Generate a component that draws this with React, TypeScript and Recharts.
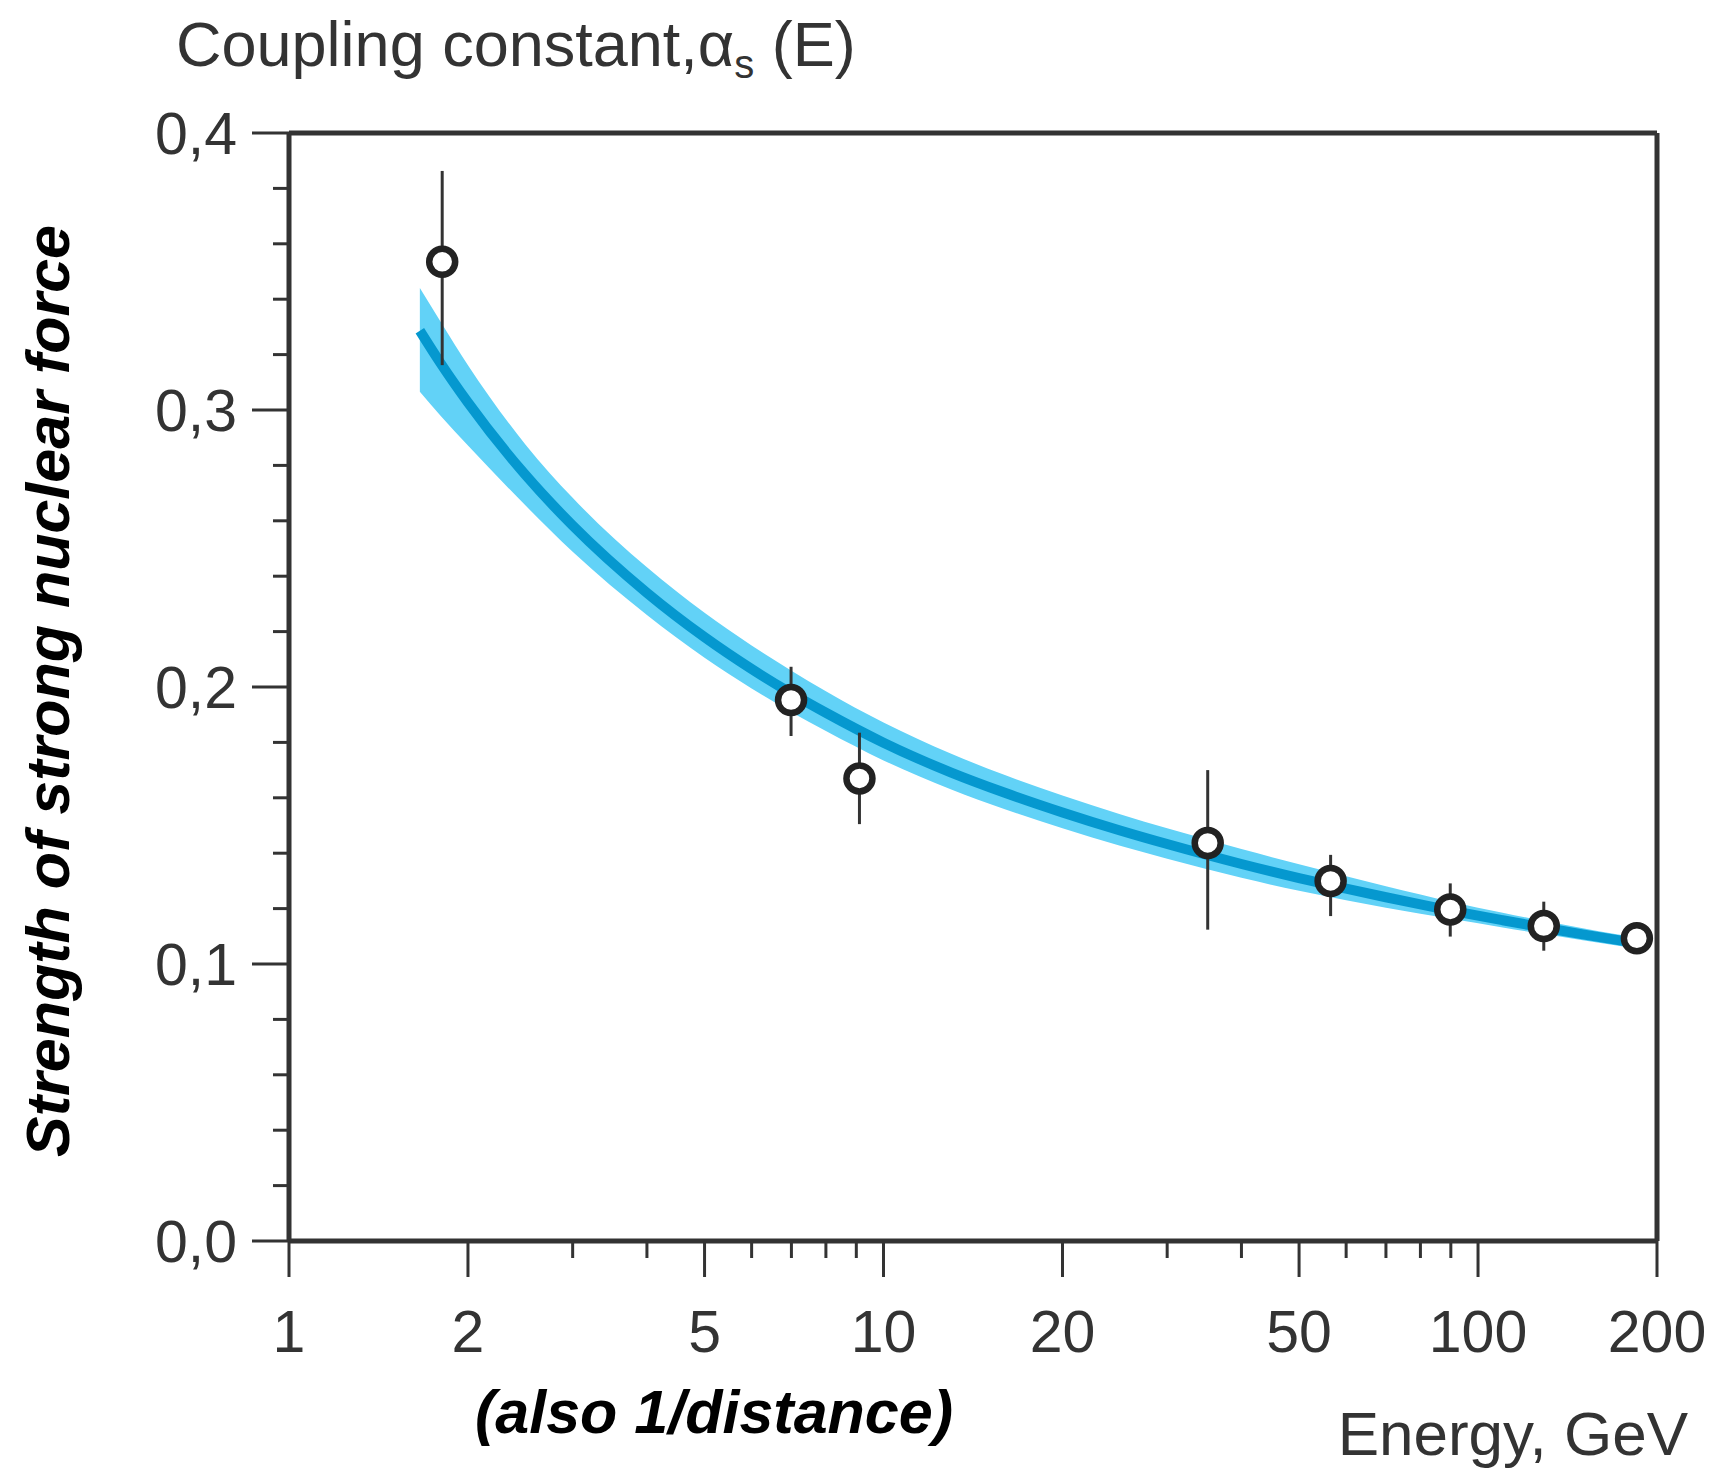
import React from "react";
import {
  ComposedChart,
  Area,
  Line,
  Scatter,
  ErrorBar,
  XAxis,
  YAxis,
  ReferenceLine,
} from "recharts";

// Running coupling curve (energy in GeV)
const CURVE_E = [1.66, 1.8, 2, 2.5, 3, 4, 5, 6, 7, 8, 10, 13, 16, 20, 25, 30, 40, 50, 60, 70, 80, 90, 110, 130, 150, 170, 188];
const CURVE_MID = [0.3286, 0.3168, 0.3027, 0.2765, 0.2583, 0.234, 0.218, 0.2065, 0.1977, 0.1907, 0.1799, 0.1691, 0.1618, 0.1547, 0.1482, 0.1433, 0.1361, 0.131, 0.1272, 0.1241, 0.1215, 0.1193, 0.1158, 0.113, 0.1107, 0.1088, 0.1073];
const BAND_HI = [0.344, 0.3318, 0.3162, 0.2875, 0.2683, 0.2432, 0.2268, 0.215, 0.2059, 0.1985, 0.1872, 0.1759, 0.1682, 0.1608, 0.1541, 0.149, 0.1415, 0.136, 0.1317, 0.1281, 0.1251, 0.1225, 0.1185, 0.1154, 0.1129, 0.1108, 0.1093];
const BAND_LO = [0.3066, 0.2978, 0.2872, 0.2655, 0.2488, 0.226, 0.2106, 0.1995, 0.1909, 0.1841, 0.1735, 0.163, 0.1559, 0.149, 0.1427, 0.138, 0.1311, 0.1264, 0.123, 0.1203, 0.1181, 0.1163, 0.1132, 0.1107, 0.1086, 0.1068, 0.1053];

// Measurements with error bars
const PT_E = [1.81, 6.99, 9.11, 35.1, 56.5, 89.8, 129, 185];
const PT_A = [0.3535, 0.1953, 0.167, 0.1437, 0.13, 0.1197, 0.1137, 0.1093];
const PT_LO = [0.3162, 0.1823, 0.1505, 0.1124, 0.1173, 0.1099, 0.1048, 0.1093];
const PT_HI = [0.3863, 0.2073, 0.1835, 0.17, 0.1394, 0.1291, 0.1225, 0.1093];

// Axis ticks
const X_MAJOR = [1, 2, 5, 10, 20, 50, 100, 200];
const X_MINOR = [3, 4, 6, 7, 8, 9, 30, 40, 60, 70, 80, 90];
const Y_TICKS = [0, 0.02, 0.04, 0.06, 0.08, 0.1, 0.12, 0.14, 0.16, 0.18, 0.2, 0.22, 0.24, 0.26, 0.28, 0.3, 0.32, 0.34, 0.36, 0.38, 0.4];

const FONT = "'Liberation Sans', Arial, Helvetica, sans-serif";
const INK = "#333333";

const curveData = CURVE_E.map((e, i) => ({
  e,
  mid: CURVE_MID[i],
  band: [BAND_LO[i], BAND_HI[i]],
}));

const pointData = PT_E.map((e, i) => ({
  e,
  a: PT_A[i],
  err: [PT_A[i] - PT_LO[i], PT_HI[i] - PT_A[i]],
}));

const XTick = (props: any) => {
  const { x, y, payload } = props;
  const v = payload.value;
  const major = X_MAJOR.includes(v);
  return (
    <g>
      <line x1={x} y1={y} x2={x} y2={y + (major ? 36 : 17)} stroke={INK} strokeWidth={3} />
      {major && (
        <text x={x} y={y + 111} textAnchor="middle" fontSize={59} fill={INK} fontFamily={FONT}>
          {v}
        </text>
      )}
    </g>
  );
};

const YTick = (props: any) => {
  const { x, y, payload } = props;
  const v = payload.value;
  const major = Math.abs(v * 10 - Math.round(v * 10)) < 1e-6;
  return (
    <g>
      <line x1={x - (major ? 37 : 16)} y1={y} x2={x} y2={y} stroke={INK} strokeWidth={3} />
      {major && (
        <text x={x - 52} y={y + 21} textAnchor="end" fontSize={59} fill={INK} fontFamily={FONT}>
          {v.toFixed(1).replace(".", ",")}
        </text>
      )}
    </g>
  );
};

const RingDot = (props: any) => {
  const { cx, cy } = props;
  return <circle cx={cx} cy={cy} r={13} fill="#fff" stroke="#222" strokeWidth={6.5} />;
};

export default function App() {
  return (
    <div style={{ position: "absolute", left: 0, top: 0, width: 1719, height: 1468, background: "#fff" }}>
      <ComposedChart
        width={1719}
        height={1468}
        data={curveData}
        margin={{ top: 133, right: 62, bottom: 226, left: 288 }}
      >
        <XAxis
          dataKey="e"
          type="number"
          scale="log"
          domain={[1, 200]}
          ticks={[...X_MAJOR, ...X_MINOR]}
          interval={0}
          allowDataOverflow
          height={1}
          tickLine={false}
          tickSize={0}
          tickMargin={0}
          tick={<XTick />}
          axisLine={{ stroke: INK, strokeWidth: 5 }}
        />
        <YAxis
          type="number"
          domain={[0, 0.4]}
          ticks={Y_TICKS}
          interval={0}
          allowDataOverflow
          width={1}
          tickLine={false}
          tickSize={0}
          tickMargin={0}
          tick={<YTick />}
          axisLine={{ stroke: INK, strokeWidth: 5 }}
        />
        <ReferenceLine y={0.4} stroke={INK} strokeWidth={5} />
        <ReferenceLine x={200} stroke={INK} strokeWidth={5} />
        <Area
          type="monotone"
          dataKey="band"
          stroke="none"
          fill="#62d2f7"
          fillOpacity={1}
          isAnimationActive={false}
        />
        <Line
          type="monotone"
          dataKey="mid"
          stroke="#0598cf"
          strokeWidth={10}
          dot={false}
          isAnimationActive={false}
        />
        <Scatter data={pointData} dataKey="a" shape={<RingDot />} isAnimationActive={false}>
          <ErrorBar dataKey="err" direction="y" width={0} stroke={INK} strokeWidth={3} />
        </Scatter>
      </ComposedChart>
      <svg
        width={1719}
        height={1468}
        style={{ position: "absolute", left: 0, top: 0, pointerEvents: "none" }}
      >
        <text x={176} y={66} fontSize={63} fill={INK} fontFamily={FONT}>
          Coupling constant,α
          <tspan fontSize={40} dy={12}>s</tspan>
          <tspan dy={-12}> (E)</tspan>
        </text>
        <text
          transform="translate(69,691) rotate(-90)"
          textAnchor="middle"
          fontSize={61}
          fontWeight="bold"
          fontStyle="italic"
          fill="#000"
          fontFamily={FONT}
        >
          Strength of strong nuclear force
        </text>
        <text
          x={475}
          y={1433}
          fontSize={61}
          fontWeight="bold"
          fontStyle="italic"
          fill="#000"
          fontFamily={FONT}
        >
          (also 1/distance)
        </text>
        <text x={1688} y={1455} textAnchor="end" fontSize={62} fill={INK} fontFamily={FONT}>
          Energy, GeV
        </text>
      </svg>
    </div>
  );
}
